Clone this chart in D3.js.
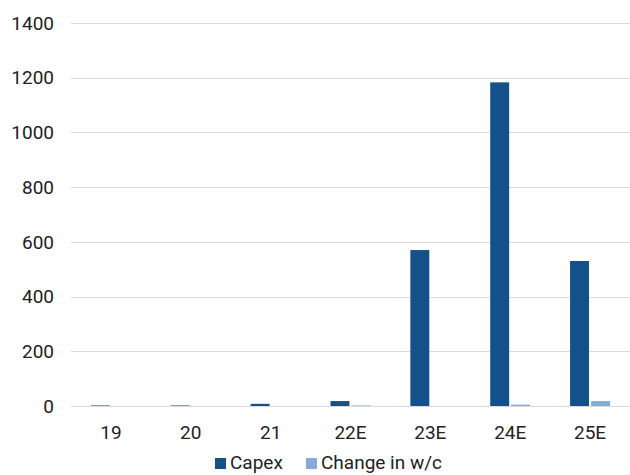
<!DOCTYPE html>
<html>
<head>
<meta charset="utf-8">
<script src="https://cdn.jsdelivr.net/npm/d3@7"></script>
<style>
  body { margin: 0; background: #fff; }
  svg { font-family: Roboto, sans-serif; }
</style>
</head>
<body>
<svg id="chart"></svg>
<script>
// Podatki
const kategorije = ["19", "20", "21", "22E", "23E", "24E", "25E"];
const capex = [2, 2, 8, 18, 570, 1183, 530];
const changeWc = [0, 0, 0, 2, 0, 5, 18];
const yTicks = [0, 200, 400, 600, 800, 1000, 1200, 1400];
const serije = ["Capex", "Change in w/c"];
const barve = ["#14508a", "#86abdb"];

const width = 630, height = 475;
const margin = { top: 23, right: 0, bottom: 69, left: 71 };

const svg = d3.select("#chart").attr("width", width).attr("height", height);

const x = d3.scaleBand()
    .domain(kategorije)
    .range([margin.left, width - margin.right]);

const xInner = d3.scaleBand()
    .domain(serije)
    .range([0, 40])
    .paddingInner(0.1);

const y = d3.scaleLinear()
    .domain([0, 1400])
    .range([height - margin.bottom, margin.top]);

// mreža
svg.append("g")
    .selectAll("line")
    .data(yTicks)
    .join("line")
    .attr("x1", margin.left)
    .attr("x2", width - margin.right)
    .attr("y1", d => Math.round(y(d)) + 0.5)
    .attr("y2", d => Math.round(y(d)) + 0.5)
    .attr("stroke", "#d9d9d9")
    .attr("stroke-width", 1);

// oznake y
svg.append("g")
    .selectAll("text")
    .data(yTicks)
    .join("text")
    .attr("x", 54)
    .attr("y", d => y(d))
    .attr("dy", "0.35em")
    .attr("text-anchor", "end")
    .attr("font-size", "19px")
    .attr("fill", "#222")
    .text(d => d);

// stolpci
const skupine = svg.append("g")
    .selectAll("g")
    .data(kategorije)
    .join("g")
    .attr("transform", d => `translate(${x(d) + x.bandwidth() / 2 - 20},0)`);

skupine.selectAll("rect")
    .data((d, i) => [
        { s: "Capex", v: capex[i] },
        { s: "Change in w/c", v: changeWc[i] }
    ])
    .join("rect")
    .attr("x", d => xInner(d.s))
    .attr("width", xInner.bandwidth())
    .attr("y", d => y(d.v))
    .attr("height", d => y(0) - y(d.v))
    .attr("fill", (d, i) => barve[i]);

// oznake x
svg.append("g")
    .selectAll("text")
    .data(kategorije)
    .join("text")
    .attr("x", d => x(d) + x.bandwidth() / 2)
    .attr("y", 432)
    .attr("dy", "0.35em")
    .attr("text-anchor", "middle")
    .attr("font-size", "19px")
    .attr("fill", "#222")
    .text(d => d);

// legenda (malo višje, da se spodnji del črk ne odreže)
const legX = [215, 306];
const leg = svg.append("g")
    .selectAll("g")
    .data(serije)
    .join("g")
    .attr("transform", (d, i) => `translate(${legX[i]},458)`);
leg.append("rect")
    .attr("width", 11)
    .attr("height", 11)
    .attr("fill", (d, i) => barve[i]);
leg.append("text")
    .attr("x", 15)
    .attr("y", 11)
    .attr("font-size", "19px")
    .attr("fill", "#222")
    .text(d => d);
</script>
</body>
</html>
